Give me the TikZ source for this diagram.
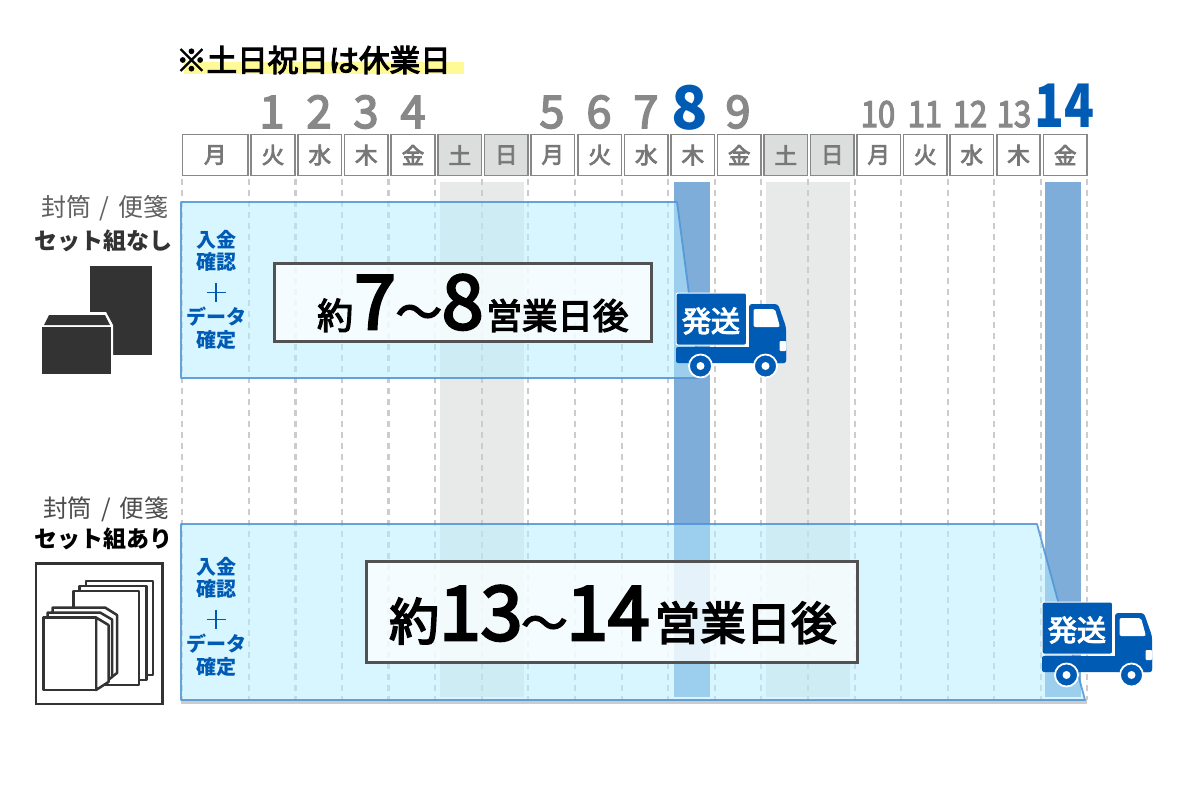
\documentclass[tikz,border=0pt]{standalone}
\usepackage{fontspec}
\setmainfont{Noto Sans CJK JP}
\newfontfamily\medf[FakeBold=3.6]{Noto Sans CJK JP}
\usetikzlibrary{calc}
\definecolor{navy}{HTML}{005BB5}
\definecolor{daygray}{HTML}{888888}
\definecolor{cellgray}{HTML}{777777}
\definecolor{weekend}{HTML}{DCDDDD}
\definecolor{band}{HTML}{E8E9E9}
\definecolor{shipband}{HTML}{7FADDA}
\definecolor{panelfill}{HTML}{B6EFFF}
\definecolor{panelline}{HTML}{4F93D6}
\definecolor{marker}{HTML}{FFFA96}
\definecolor{ink}{HTML}{333333}
\newcommand{\fsz}[1]{\fontsize{#1}{#1}\selectfont}
\tikzset{
  x=1pt,y=-1pt,
  cell/.style={draw=daygray,line width=1.4pt,fill=white,text=cellgray,font=\fsz{22.5}\medf,inner sep=0pt},
  daynum/.style={text=daygray,font=\fsz{45}\medf,inner sep=0pt,anchor=base},
  smallnum/.style={text=daygray,font=\fsz{36}\medf,inner sep=0pt,anchor=base},
  bignum/.style={text=navy,font=\fsz{60}\bfseries,inner sep=0pt,anchor=base},
  gridline/.style={draw=black!20,line width=2.4pt,dash pattern=on 6pt off 5pt},
  panel/.style={fill=panelfill,fill opacity=.52,draw=panelline,draw opacity=.85,line width=1.8pt,line join=round},
  stepblue/.style={text=navy,font=\fsz{20}\bfseries,inner sep=0pt},
  plusblue/.style={draw=navy,line width=1.5pt},
  notebox/.style={draw=black!68,line width=3pt,fill=white,fill opacity=.75,text opacity=1,text=black,inner sep=0pt},
  kind/.style={text=black!62,font=\fsz{25},inner sep=0pt,anchor=east},
  kindb/.style={font=\fsz{23}\bfseries,inner sep=0pt,anchor=east},
  sheet/.style={draw=ink,fill=white,line width=2.5pt,line join=round},
}
\newcommand{\truck}[3]{%
\begin{scope}[shift={(#1,#2)}]
  \fill[navy,rounded corners=2pt] (0,54) rectangle (110,70);
  \fill[navy,rounded corners=3pt] (73,62) -- (73,11) -- (102,11) -- (110,34) -- (110,70) -- (73,70) -- cycle;
  \fill[white,rounded corners=2pt] (77.5,16) -- (99,16) -- (104,34) -- (77.5,34) -- cycle;
  \fill[white,rounded corners=1pt] (103.5,48) rectangle (110,58);
  \fill[navy,draw=white,line width=1pt,rounded corners=2pt] (0,0) rectangle (70.5,52);
  \node[text=white,font=\fsz{29},inner sep=0pt] (#3label) at (35,28) {\medf 発送};
  \fill[navy,draw=white,line width=1.8pt] (24.5,73) circle (11.5);
  \fill[white] (24.5,73) circle (4);
  \fill[navy,draw=white,line width=1.8pt] (89.5,73) circle (11.5);
  \fill[white] (89.5,73) circle (4);
\end{scope}}
\newcommand{\stepnote}[2]{%
  \node[stepblue] (#2a) at (216,#1) {入金};
  \node[stepblue] (#2b) at (216,#1+22) {確認};
  \draw[plusblue] (216,#1+43) -- (216,#1+62) (206.5,#1+52.5) -- (225.5,#1+52.5);
  \node[stepblue] (#2c) at (216,#1+77) {データ};
  \node[stepblue] (#2d) at (216,#1+100) {確定};
}
\begin{document}
\begin{tikzpicture}
\useasboundingbox (0,0) rectangle (1200,800);
\fill[white] (0,0) rectangle (1200,800);
% title
\fill[marker] (184,62) rectangle (464,74);
\node[anchor=west,inner sep=0pt,font=\fsz{30.5}\medf,text=black] (title) at (176,60) {※土日祝日は休業日};
% bands
\fill[band] (440,182) rectangle (524,697);
\fill[band] (766,182) rectangle (850,697);
\fill[shipband] (674,182) rectangle (710,697);
\fill[shipband] (1045,182) rectangle (1081,697);
% grid
\foreach \x in {182,249,295.5,342,388.5,435,482,528,575,622,668,715,761,808,855,901,948,994,1041,1087}
  \draw[gridline] (\x,179) -- (\x,700);
% header cells
\foreach \n/\l/\r/\t in {a/182.5/248/月,b/251/295/火,c/298/341.5/水,d/344.5/388/木,e/391/435/金,h/531/574.5/月,i/578/621.5/火,j/624.5/668/水,k/671/714.5/木,l/717.5/761/金,o/857/900.5/月,p/903.5/947/火,q/950/993.5/水,r/997/1040/木,s/1043.5/1087/金}
  \node[cell,minimum width=\r pt-\l pt,minimum height=41pt] (cell\n) at ({(\l+\r)/2},155) {\t};
\foreach \n/\l/\r/\t in {f/438/481.5/土,g/484.5/528/日,m/764/807.5/土,n/810.5/854/日}
  \node[cell,fill=weekend,minimum width=\r pt-\l pt,minimum height=41pt] (cell\n) at ({(\l+\r)/2},155) {\t};
% day numbers
\foreach \n/\x/\t in {1/272/1,2/319/2,3/366/3,4/413/4,5/552/5,6/599/6,7/646/7,9/738/9}
  \node[daynum] (day\n) at (\x,128) {\t};
\foreach \n/\x/\t in {10/878/10,11/925/11,12/970/12,13/1014/13}
  \node[smallnum,xscale=.86] (day\n) at (\x,127) {\t};
\node[bignum] (day8) at (690,129) {8};
\node[bignum,xscale=.82] (day14) at (1064,127) {14};
% panels
\draw[panel] (181,202) -- (677,202) -- (700,378) -- (181,378) -- cycle;
\fill[black!20] (181,700) rectangle (1087,704);
\draw[panel] (181,524) -- (1037,524) -- (1085,700) -- (181,700) -- cycle;
% step notes
\stepnote{240}{u}
\stepnote{567}{v}
% note boxes
\node[notebox,minimum width=377pt,minimum height=78pt] (boxa) at (462.5,302) {};
\node[inner sep=0pt,font=\medf,text=black,anchor=base west] (texta) at (317,329) {\fsz{36}約\kern1pt\fsz{75}7\kern0pt{\fsz{46}～}\kern0pt 8\kern3pt\fsz{35.5}営業日後};
\node[notebox,minimum width=491pt,minimum height=101pt] (boxb) at (611.5,611.5) {};
\node[inner sep=0pt,font=\medf,text=black,anchor=base west] (textb) at (389,640) {\fsz{50}約\fsz{75}13\kern-1pt{\fsz{46}～}\kern-1pt 14\kern5pt\fsz{45.5}営業日後};
% trucks
\truck{676}{293}{trka}
\truck{1042}{602}{trkb}
% row labels
\node[kind] (labela) at (169,208) {封筒\kern9pt/\kern9pt便箋};
\node[kindb,text=ink] (labelb) at (173,241) {セット組なし};
\node[kind,text=black!70,font=\fsz{24.5}] (labelc) at (169,509) {封筒\kern9pt/\kern9pt便箋};
\node[kindb,text=black] (labeld) at (173,539) {セット組あり};
% envelopes icon
\fill[ink] (90,266) rectangle (152,355);
\fill[white] (85,312) -- (106,312) -- (113,325) -- (113,375) -- (85,375) -- cycle;
\fill[ink] (44,325) -- (49,315) -- (105,315) -- (110,325) -- cycle;
\fill[ink] (42,327) rectangle (110.5,374);
% sets icon
\draw[ink,line width=2.6pt,fill=white] (36,563.5) rectangle (162.5,704);
\draw[sheet] (86,581) rectangle (153,675);
\draw[sheet] (79.5,586) rectangle (146.5,680);
\draw[sheet] (73.5,591) rectangle (139,685);
\draw[sheet] (52.5,607.5) -- (105,607.5) -- (117,615) -- (117,673) -- (108,680) -- (52.5,680) -- cycle;
\draw[sheet] (47.5,612.5) -- (100,612.5) -- (112,619.5) -- (112,677) -- (103,683) -- (47.5,683) -- cycle;
\draw[sheet] (96,617.5) -- (108.5,625) -- (108.5,682) -- (96,690) -- cycle;
\draw[sheet] (43.5,617.5) rectangle (96,690);
\end{tikzpicture}
\end{document}
